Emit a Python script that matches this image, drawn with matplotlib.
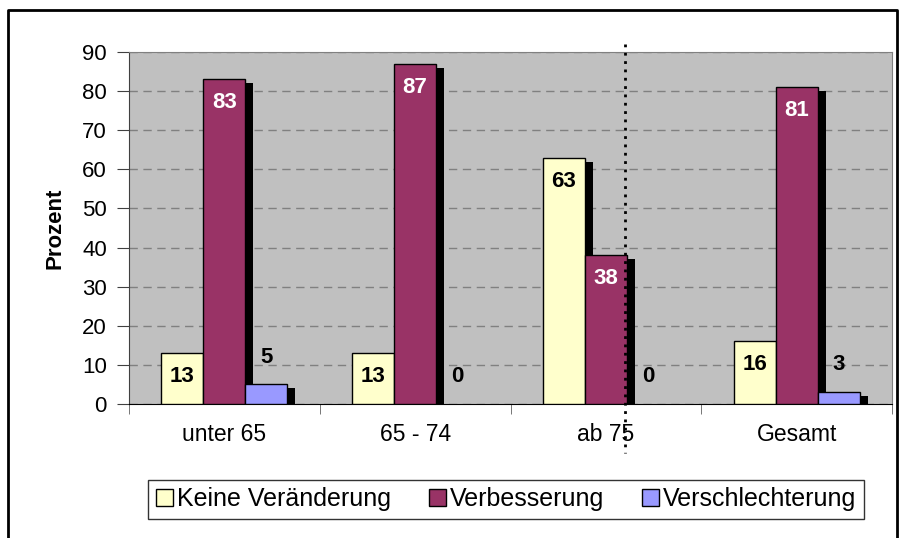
import numpy as np
import matplotlib
matplotlib.use('Agg')
import matplotlib.pyplot as plt
import matplotlib.transforms as mtransforms
from matplotlib.lines import Line2D

plt.rcParams['font.family'] = ['Liberation Sans', 'DejaVu Sans']

# data
categories = ['unter 65', '65 - 74', 'ab 75', 'Gesamt']
series = ['Keine Veränderung', 'Verbesserung', 'Verschlechterung']
keine = [13, 13, 63, 16]
verbesserung = [83, 87, 38, 81]
verschlechterung = [5, 0, 0, 3]
colors = ['#FFFFCC', '#993366', '#9999FF']
label_colors = ['black', 'white', 'black']

fig = plt.figure(figsize=(8.99, 5.38), dpi=100)
ax = fig.add_axes([129/899, 1 - 404/538, (892-129)/899, (404-52)/538])
ax.set_facecolor('#C0C0C0')

x = np.arange(len(categories))
w = 0.22
shadow = mtransforms.offset_copy(ax.transData, fig=fig, x=8, y=-4, units='dots')

for k, vals in enumerate([keine, verbesserung, verschlechterung]):
    pos = x + (k - 1) * w
    lw = [1 if v > 0 else 0 for v in vals]
    # drop shadow
    ax.bar(pos, vals, w, color='black', transform=shadow, zorder=2)
    ax.bar(pos, vals, w, color=colors[k], edgecolor='black', linewidth=lw,
           zorder=3, label=series[k])
    for p, v in zip(pos, vals):
        if v >= 10:
            ax.text(p, v - 6, str(v), ha='center', va='center', fontsize=16,
                    fontweight='bold', color=label_colors[k], zorder=5)
        else:
            ax.text(p, v + 7, str(v), ha='center', va='center', fontsize=16,
                    fontweight='bold', color='black', zorder=5)

ax.set_xlim(-0.5, len(categories) - 0.5)
ax.set_ylim(0, 90)
ax.set_yticks(range(0, 91, 10))
ax.yaxis.grid(True, linestyle=(0, (6, 4)), color='#808080', linewidth=1)
ax.set_axisbelow(True)

ax.set_xticks(x)
ax.set_xticklabels(categories)
ax.set_xticks(np.arange(-0.5, len(categories)), minor=True)
ax.tick_params(axis='x', which='major', length=0, pad=14, labelsize=16.5)
ax.tick_params(axis='x', which='minor', length=7, color='#606060')
ax.tick_params(axis='y', length=9, pad=7, labelsize=16, color='#404040')

for s in ['top', 'right']:
    ax.spines[s].set_color('#808080')
ax.spines['left'].set_color('#404040')
ax.spines['bottom'].set_color('black')

ax.set_ylabel('Prozent', fontsize=16, fontweight='bold', labelpad=12)

# dotted separator line
ax.plot([2.1, 2.1], [92, -12.5], color='black', linestyle=(0, (1, 2)),
        linewidth=2, clip_on=False, zorder=6)

leg = fig.legend(loc='center', bbox_to_anchor=(506/899, 1 - 499/538), ncol=3,
                 fontsize=18, frameon=True, fancybox=False, edgecolor='black',
                 handlelength=0.7, handleheight=0.7, handletextpad=0.15,
                 columnspacing=1.5, borderpad=0.3)
leg.get_frame().set_linewidth(1)

# outer chart border
fig.add_artist(Line2D([8/899, 8/899, 897/899, 897/899],
                      [0, 1 - 10/538, 1 - 10/538, 0],
                      transform=fig.transFigure, color='black', linewidth=2))

fig.savefig('out.png', dpi=100, facecolor='white')
